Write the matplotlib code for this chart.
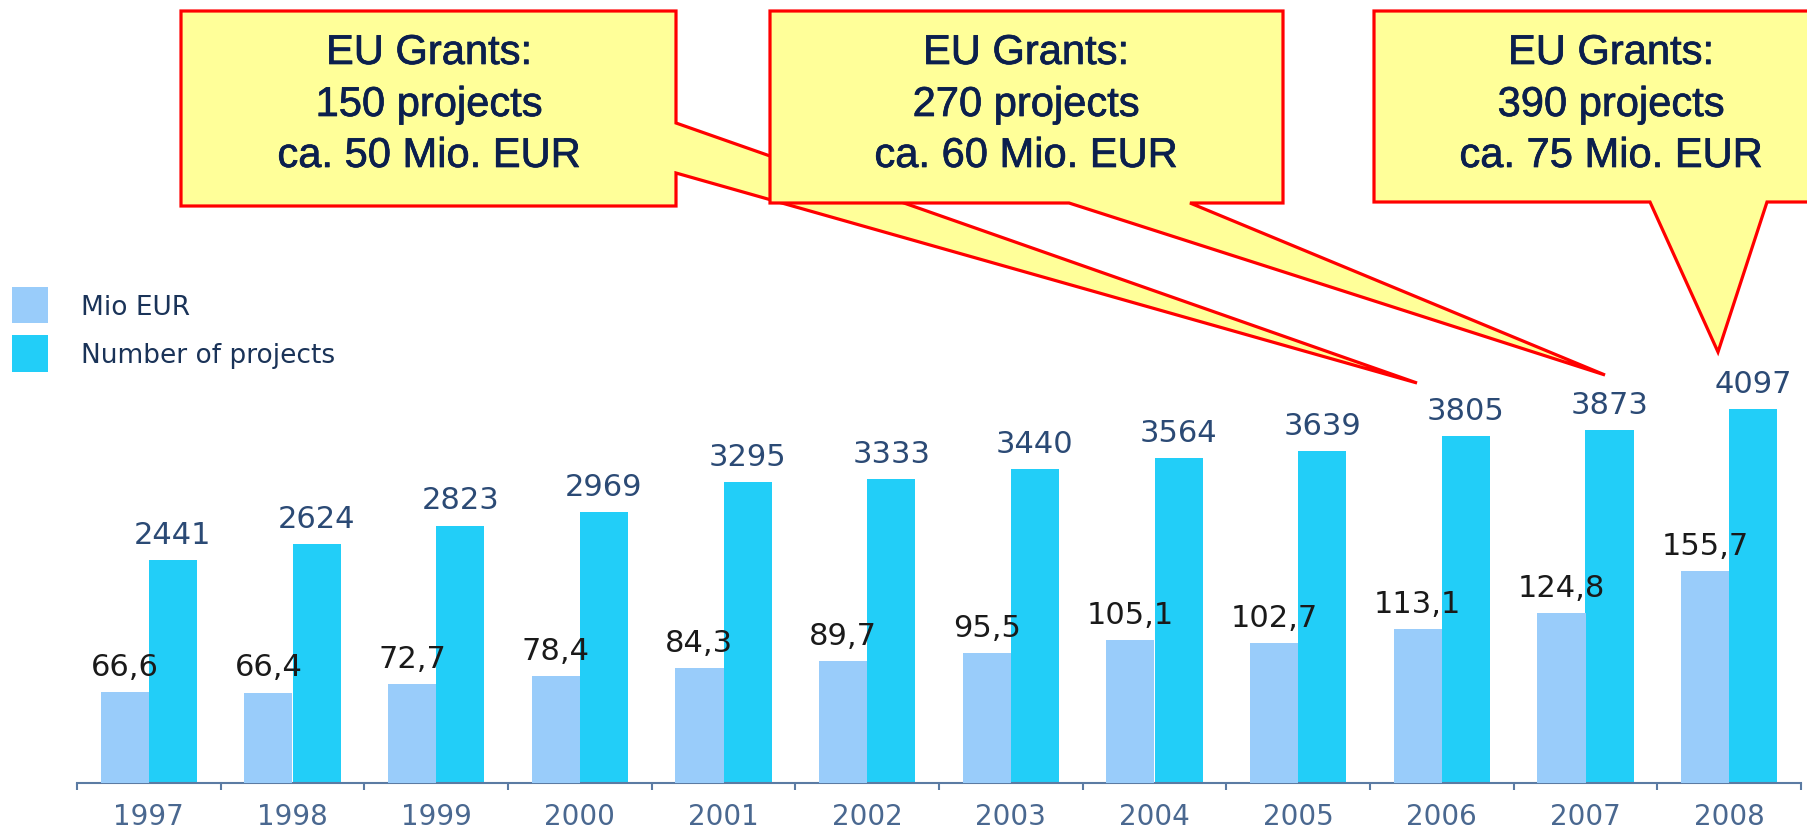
import matplotlib.pyplot as plt
import matplotlib.patheffects as pe
from matplotlib.patches import Polygon
from matplotlib.transforms import Affine2D
import numpy as np

years = ["1997", "1998", "1999", "2000", "2001", "2002",
         "2003", "2004", "2005", "2006", "2007", "2008"]
mio_eur = [66.6, 66.4, 72.7, 78.4, 84.3, 89.7, 95.5, 105.1, 102.7, 113.1, 124.8, 155.7]
projects = [2441, 2624, 2823, 2969, 3295, 3333, 3440, 3564, 3639, 3805, 3873, 4097]

callout_lines = [
    ["EU Grants:", "150 projects", "ca. 50 Mio. EUR"],
    ["EU Grants:", "270 projects", "ca. 60 Mio. EUR"],
    ["EU Grants:", "390 projects", "ca. 75 Mio. EUR"],
]

W, H = 1807, 829
fig = plt.figure(figsize=(W / 100, H / 100), dpi=100)
plt.rcParams['font.family'] = ['DejaVu Sans']

# axes in pixel terms: x 77..1801, y 300..784 (top-down)
ax = fig.add_axes([77 / W, 45 / H, 1724 / W, 484 / H])
ax2 = ax.twinx()

x = np.arange(len(years))
bw = 0.335
b_mio = ax2.bar(x - bw / 2, mio_eur, bw, color='#99CCFA', label='Mio EUR')
b_proj = ax.bar(x + bw / 2, projects, bw, color='#22CEF8', label='Number of projects')

ax.set_ylim(0, 5307)
ax2.set_ylim(0, 355.4)
ax.set_xlim(-0.5, 11.5)

ax.bar_label(b_proj, labels=[str(v) for v in projects], padding=8,
             fontsize=22, color='#2b4a75')
ax2.bar_label(b_mio, labels=[f"{v:.1f}".replace('.', ',') for v in mio_eur],
              padding=8, fontsize=22, color='#1a1a1a')

for a in (ax, ax2):
    for s in ['top', 'left', 'right']:
        a.spines[s].set_visible(False)
    a.set_yticks([])
ax2.spines['bottom'].set_visible(False)
ax.spines['bottom'].set_color('#5b7ba3')
ax.spines['bottom'].set_linewidth(1.5)

ax.set_xticks(x)
ax.set_xticklabels(years)
ax.set_xticks(np.arange(-0.5, 12, 1), minor=True)
ax.tick_params(axis='x', which='major', length=0, pad=14, labelsize=20,
               labelcolor='#4a6890')
ax.tick_params(axis='x', which='minor', length=5, width=1.5, color='#5b7ba3')

fig.legend(handles=[b_mio, b_proj], labels=['Mio EUR', 'Number of projects'],
           loc='upper left', bbox_to_anchor=(12 / W, 1 - 288 / H),
           frameon=False, fontsize=19, handlelength=1.35, handleheight=1.75,
           handletextpad=1.25, labelspacing=0.45, borderpad=0, borderaxespad=0,
           labelcolor='#1a3358')

# callouts, drawn in pixel coordinates (y down)
px = Affine2D().scale(1 / W, -1 / H).translate(0, 1) + fig.transFigure
shapes = [
    [(181, 12), (676, 12), (676, 124), (1417, 384), (676, 174), (676, 207), (181, 207)],
    [(770, 12), (1283, 12), (1283, 204), (1190, 204), (1605, 376), (1069, 204), (770, 204)],
    [(1374, 12), (1830, 12), (1830, 203), (1767, 203), (1718, 353), (1650, 203), (1374, 203)],
]
centers = [429, 1026, 1611]
baselines = [65, 117, 168]
for shape, cx, lines in zip(shapes, centers, callout_lines):
    fig.add_artist(Polygon(shape, closed=True, transform=px, facecolor='#FFFF99',
                           edgecolor='#FF0000', linewidth=2.3, joinstyle='miter'))
    for line, by in zip(lines, baselines):
        fig.text(cx, by, line, transform=px, ha='center', va='baseline',
                 fontsize=30, family='Liberation Sans', color='#0b1f4d', zorder=5,
                 path_effects=[pe.withStroke(linewidth=0.5, foreground='#0b1f4d')])

fig.savefig('out.png', dpi=100)
